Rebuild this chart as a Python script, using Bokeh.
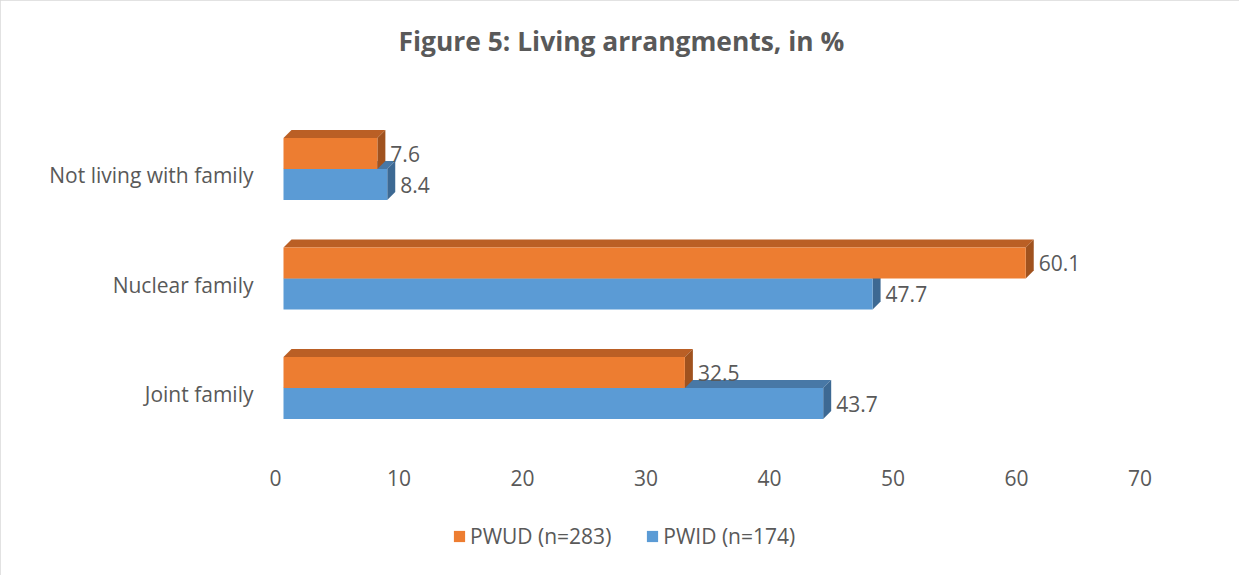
from bokeh.plotting import figure
from bokeh.models import FixedTicker, Legend, LegendItem, ColumnDataSource, Range1d
from bokeh.embed import file_html
from bokeh.resources import INLINE

# ---- data ----
categories = ["Joint family", "Nuclear family", "Not living with family"]
pwud = [32.5, 60.1, 7.6]
pwid = [43.7, 47.7, 8.4]
series_names = ["PWUD (n=283)", "PWID (n=174)"]
x_ticks = [0, 10, 20, 30, 40, 50, 60, 70]
title_text = "Figure 5: Living arrangments, in %"

# ---- styling / geometry ----
W, H = 1239, 575
FRAME_L, FRAME_W = 258, 914
FRAME_T, FRAME_H = 70, 491
PX_X = 12.35          # pixels per % unit
PX_Y = 109.5          # pixels per category step
Y0_PIX = 393.5        # pixel row of first category label
BAR_H = 31            # px
DEPTH = 8             # px, 3D depth offset
LABEL_SHIFT = 6       # px the group sits above its label
TICK_ROW = 477        # pixel row of value tick labels

x_start = -25 / PX_X
x_end = x_start + FRAME_W / PX_X
y_end = (Y0_PIX - FRAME_T) / PX_Y
y_start = -(FRAME_T + FRAME_H - Y0_PIX) / PX_Y

FONT = "Open Sans"
TXT = "#595959"
ORANGE = ("#ED7D31", "#BA5F25", "#A0521E")   # front, top, side
BLUE = ("#5B9BD5", "#4878A6", "#3D6993")

p = figure(width=W, height=H, output_backend="svg", toolbar_location=None,
           x_range=Range1d(x_start, x_end), y_range=Range1d(y_start, y_end),
           x_axis_location=None,
           min_border_left=FRAME_L, min_border_right=W - FRAME_L - FRAME_W,
           min_border_top=FRAME_T, min_border_bottom=H - FRAME_T - FRAME_H)
p.outline_line_color = None
p.xgrid.visible = False
p.ygrid.visible = False
p.background_fill_color = "white"
p.border_fill_color = "white"
p.styles = {"outline": "1px solid #D9D9D9", "outline-offset": "-1px"}

dx = DEPTH / PX_X
dy = DEPTH / PX_Y

def draw_series(vals, colors, lower):
    front, top_c, side_c = colors
    ys = list(range(len(vals)))
    if lower:
        bottoms = [y + LABEL_SHIFT / PX_Y - BAR_H / PX_Y for y in ys]
    else:
        bottoms = [y + LABEL_SHIFT / PX_Y for y in ys]
    tops = [b + BAR_H / PX_Y for b in bottoms]
    top_xs = [[0, v, v + dx, dx] for v in vals]
    top_ys = [[t, t, t + dy, t + dy] for t in tops]
    side_xs = [[v, v, v + dx, v + dx] for v in vals]
    side_ys = [[b, t, t + dy, b + dy] for b, t in zip(bottoms, tops)]
    p.patches(top_xs, top_ys, fill_color=top_c, line_color=None)
    p.patches(side_xs, side_ys, fill_color=side_c, line_color=None)
    src = ColumnDataSource(dict(left=[0] * len(vals), right=vals, bottom=bottoms, top=tops,
                                ly=[(b + t) / 2 for b, t in zip(bottoms, tops)],
                                lab=[f"{v:.1f}" for v in vals]))
    r = p.quad(left="left", right="right", bottom="bottom", top="top", source=src,
               fill_color=front, line_color=None)
    p.text(x="right", y="ly", text="lab", source=src, x_offset=13,
           text_baseline="middle", text_align="left", text_color=TXT,
           text_font={"value": FONT}, text_font_size="21px")
    return r

r_blue = draw_series(pwid, BLUE, True)
r_orange = draw_series(pwud, ORANGE, False)

# y axis (categories)
p.yaxis.ticker = FixedTicker(ticks=list(range(len(categories))))
p.yaxis.major_label_overrides = {i: c for i, c in enumerate(categories)}
p.yaxis.axis_line_color = None
p.yaxis.major_tick_line_color = None
p.yaxis.minor_tick_line_color = None
p.yaxis.major_tick_out = 0
p.yaxis.major_tick_in = 0
p.yaxis.major_label_standoff = 5
p.yaxis.major_label_text_font = FONT
p.yaxis.major_label_text_font_size = "21px"
p.yaxis.major_label_text_color = TXT

# value tick labels along the floor's front edge (slightly left of bar origin)
tick_y = (Y0_PIX - TICK_ROW) / PX_Y
tsrc = ColumnDataSource(dict(x=x_ticks, y=[tick_y] * len(x_ticks), t=[str(v) for v in x_ticks]))
p.text(x="x", y="y", text="t", source=tsrc, x_offset=-8, text_align="center",
       text_baseline="middle", text_color=TXT, text_font={"value": FONT}, text_font_size="21px")

legend = Legend(items=[LegendItem(label=series_names[0], renderers=[r_orange]),
                       LegendItem(label=series_names[1], renderers=[r_blue])],
                orientation="horizontal", location=(194, 11),
                glyph_width=14, glyph_height=14, label_standoff=4, spacing=34,
                padding=0, margin=0, border_line_color=None, background_fill_alpha=0,
                label_text_font=FONT, label_text_font_size="21px", label_text_color=TXT)
p.add_layout(legend, "center")

p.title.text = title_text
p.title.align = "left"
p.title.offset = 140
p.title.standoff = 24
p.title.text_font = FONT
p.title.text_font_style = "bold"
p.title.text_font_size = "26.4px"
p.title.text_color = TXT

open("out.html", "w").write(file_html(p, INLINE))
